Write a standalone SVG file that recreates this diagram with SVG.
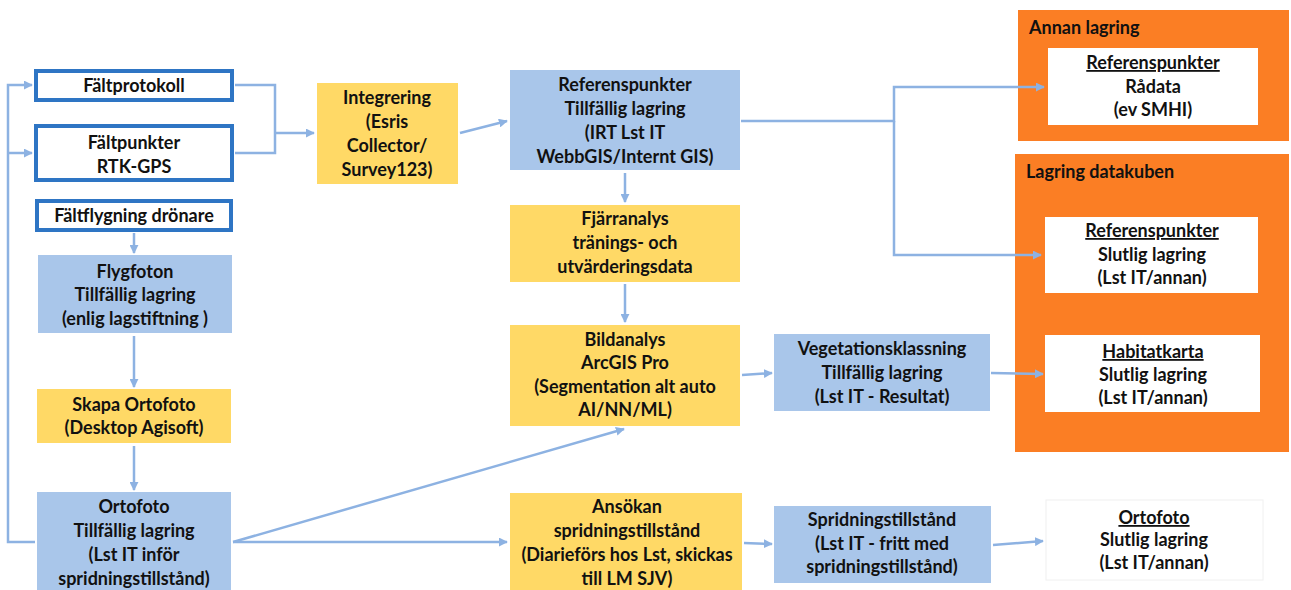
<svg xmlns="http://www.w3.org/2000/svg" width="1291" height="590" viewBox="0 0 1291 590">
<defs>
<marker id="ah" viewBox="0 0 10 10" refX="9" refY="5" markerWidth="3.6" markerHeight="3.6" orient="auto" markerUnits="strokeWidth">
<path d="M0,0 L10,5 L0,10 z" fill="#8DB2E2"/>
</marker>
<style>
text{font-family:Lato,"Open Sans","Liberation Sans",sans-serif;font-weight:bold;font-size:18px;fill:#111;text-anchor:middle}
.lbl{text-anchor:start}
.blue{fill:#A9C6EA}
.yel{fill:#FFD966}
.org{fill:#FB7E24}
.wht{fill:#fff}
.thick{fill:#fff;stroke:#2E75C4;stroke-width:4}
.faint{fill:#fff;stroke:#f0f0f0;stroke-width:1}
.c{fill:none;stroke:#8DB2E2;stroke-width:2.5}
.u{text-decoration:underline}
</style>
</defs>
<rect width="1291" height="590" fill="#fff"/>

<g id="annan-lagring">
<rect class="org" x="1018" y="10" width="271" height="131"/>
<text class="lbl" x="1029" y="34">Annan lagring</text>
</g>
<g id="lagring-datakuben">
<rect class="org" x="1015" y="154" width="274" height="298"/>
<text class="lbl" x="1026" y="178">Lagring datakuben</text>
</g>

<g id="faltprotokoll">
<rect class="thick" x="36" y="71" width="196" height="29"/>
<text x="134" y="92">Fältprotokoll</text>
</g>
<g id="faltpunkter">
<rect class="thick" x="36" y="126" width="196" height="54"/>
<text x="134" y="149">Fältpunkter</text>
<text x="134" y="173">RTK-GPS</text>
</g>
<g id="faltflygning">
<rect class="thick" x="37" y="201" width="194" height="29"/>
<text x="134" y="222">Fältflygning drönare</text>
</g>
<g id="flygfoton">
<rect class="blue" x="38" y="255" width="194" height="78"/>
<text x="135" y="278">Flygfoton</text>
<text x="135" y="301">Tillfällig lagring</text>
<text x="135" y="325">(enlig lagstiftning )</text>
</g>
<g id="skapa-ortofoto">
<rect class="yel" x="37" y="389" width="194" height="54"/>
<text x="134" y="411">Skapa Ortofoto</text>
<text x="134" y="434">(Desktop Agisoft)</text>
</g>
<g id="ortofoto-tillfallig">
<rect class="blue" x="37" y="492" width="194" height="100"/>
<text x="134" y="513">Ortofoto</text>
<text x="134" y="537">Tillfällig lagring</text>
<text x="134" y="561">(Lst IT inför</text>
<text x="134" y="585">spridningstillstånd)</text>
</g>
<g id="integrering">
<rect class="yel" x="317" y="83" width="141" height="101"/>
<text x="387" y="104">Integrering</text>
<text x="387" y="128">(Esris</text>
<text x="387" y="152">Collector/</text>
<text x="387" y="176">Survey123)</text>
</g>
<g id="referenspunkter-tillfallig">
<rect class="blue" x="510" y="70" width="230" height="100"/>
<text x="625" y="91">Referenspunkter</text>
<text x="625" y="115">Tillfällig lagring</text>
<text x="625" y="139">(IRT Lst IT</text>
<text x="625" y="163">WebbGIS/Internt GIS)</text>
</g>
<g id="fjarranalys">
<rect class="yel" x="510" y="205" width="230" height="77"/>
<text x="625" y="225">Fjärranalys</text>
<text x="625" y="249">tränings- och</text>
<text x="625" y="273">utvärderingsdata</text>
</g>
<g id="bildanalys">
<rect class="yel" x="510" y="325" width="230" height="101"/>
<text x="625" y="346">Bildanalys</text>
<text x="625" y="369">ArcGIS Pro</text>
<text x="625" y="393">(Segmentation alt auto</text>
<text x="625" y="416">AI/NN/ML)</text>
</g>
<g id="ansokan">
<rect class="yel" x="510" y="493" width="232" height="99"/>
<text x="627" y="513">Ansökan</text>
<text x="627" y="537">spridningstillstånd</text>
<text x="627" y="561">(Diarieförs hos Lst, skickas</text>
<text x="627" y="585">till LM SJV)</text>
</g>
<g id="vegetationsklassning">
<rect class="blue" x="774" y="334" width="216" height="77"/>
<text x="882" y="355">Vegetationsklassning</text>
<text x="882" y="379">Tillfällig lagring</text>
<text x="882" y="403">(Lst IT - Resultat)</text>
</g>
<g id="spridningstillstand">
<rect class="blue" x="774" y="506" width="217" height="77"/>
<text x="882" y="526">Spridningstillstånd</text>
<text x="882" y="550">(Lst IT - fritt med</text>
<text x="882" y="573">spridningstillstånd)</text>
</g>
<g id="referenspunkter-radata">
<rect class="wht" x="1048" y="48" width="210" height="77"/>
<text class="u" x="1153" y="69">Referenspunkter</text>
<text x="1153" y="93">Rådata</text>
<text x="1153" y="116">(ev SMHI)</text>
</g>
<g id="referenspunkter-slutlig">
<rect class="wht" x="1045" y="217" width="213" height="76"/>
<text class="u" x="1152" y="237">Referenspunkter</text>
<text x="1152" y="261">Slutlig lagring</text>
<text x="1152" y="284">(Lst IT/annan)</text>
</g>
<g id="habitatkarta">
<rect class="wht" x="1045" y="335" width="215" height="77"/>
<text class="u" x="1153" y="358">Habitatkarta</text>
<text x="1153" y="381">Slutlig lagring</text>
<text x="1153" y="404">(Lst IT/annan)</text>
</g>
<g id="ortofoto-slutlig">
<rect class="faint" x="1046" y="500" width="217" height="80"/>
<text class="u" x="1154" y="524">Ortofoto</text>
<text x="1154" y="546">Slutlig lagring</text>
<text x="1154" y="569">(Lst IT/annan)</text>
</g>

<g id="connectors">
<path class="c" d="M35,542 H8 V85 H32" marker-end="url(#ah)"/>
<path class="c" d="M8,153 H32" marker-end="url(#ah)"/>
<path class="c" d="M235,85 H275 V153 H235"/>
<path class="c" d="M275,133 H314" marker-end="url(#ah)"/>
<path class="c" d="M134,233 V253" marker-end="url(#ah)"/>
<path class="c" d="M134,336 V387" marker-end="url(#ah)"/>
<path class="c" d="M134,446 V490" marker-end="url(#ah)"/>
<path class="c" d="M460,133 L507,121" marker-end="url(#ah)"/>
<path class="c" d="M625,173 V202" marker-end="url(#ah)"/>
<path class="c" d="M625,284 V322" marker-end="url(#ah)"/>
<path class="c" d="M233,542 H507" marker-end="url(#ah)"/>
<path class="c" d="M233,542 L624,429" marker-end="url(#ah)"/>
<path class="c" d="M742,375 L772,373" marker-end="url(#ah)"/>
<path class="c" d="M744,543 L772,544" marker-end="url(#ah)"/>
<path class="c" d="M741,121 H894 V87 H1044" marker-end="url(#ah)"/>
<path class="c" d="M894,121 V255 H1041" marker-end="url(#ah)"/>
<path class="c" d="M991,373 L1043,374" marker-end="url(#ah)"/>
<path class="c" d="M993,545 L1043,541" marker-end="url(#ah)"/>
</g>
</svg>
